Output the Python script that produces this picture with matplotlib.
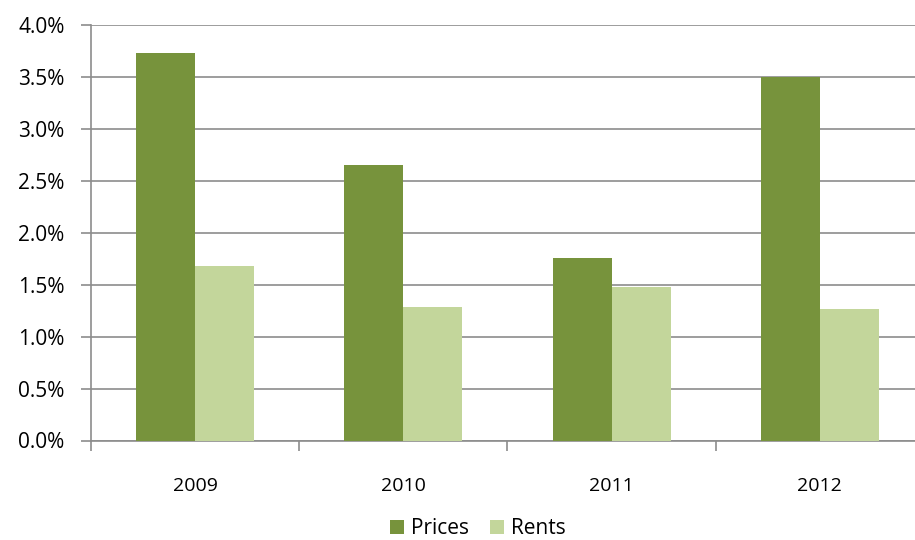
import matplotlib
matplotlib.use("Agg")
import matplotlib.pyplot as plt
import numpy as np
from matplotlib.ticker import FuncFormatter, MultipleLocator

years = ["2009", "2010", "2011", "2012"]
prices = [3.73, 2.65, 1.76, 3.50]
rents = [1.68, 1.29, 1.48, 1.27]

DARK = "#77933C"
LIGHT = "#C3D69B"
GRID = "#8C8C8C"

plt.rcParams["font.family"] = ["Open Sans", "DejaVu Sans"]

fig = plt.figure(figsize=(9.15, 5.4), dpi=100)
ax = fig.add_axes([91 / 915, 1 - 440.5 / 540, (924 - 91) / 915, (440.5 - 25) / 540])

x = np.arange(len(years))
w = 0.283
ax.bar(x - w / 2, prices, w, color=DARK, label="Prices", zorder=3)
ax.bar(x + w / 2, rents, w, color=LIGHT, label="Rents", zorder=3)

ax.set_xlim(-0.5, len(years) - 0.5)
ax.set_ylim(0, 4.0)
ax.yaxis.set_major_locator(MultipleLocator(0.5))
ax.yaxis.set_major_formatter(FuncFormatter(lambda v, _: f"{v:.1f}%"))
ax.yaxis.grid(True, color=GRID, linewidth=1.2, zorder=0)

ax.set_xticks(x)
ax.set_xticklabels(years)
ax.set_xticks(np.arange(len(years) + 1) - 0.5, minor=True)
ax.tick_params(axis="x", which="major", length=0, pad=26, labelsize=14)
ax.tick_params(axis="x", which="minor", length=7, width=1.2, color=GRID)
ax.tick_params(axis="y", length=7, width=1.2, color=GRID, pad=12, labelsize=15)

for side in ("top", "right"):
    ax.spines[side].set_visible(False)
for side in ("left", "bottom"):
    ax.spines[side].set_color(GRID)
    ax.spines[side].set_linewidth(1.2)

fig.legend(loc="center", bbox_to_anchor=(478 / 915, 1 - 529 / 540), ncol=2,
           frameon=False, fontsize=15, handlelength=0.65, handleheight=0.65,
           handletextpad=0.35, columnspacing=1.0)

fig.savefig("out.png", dpi=100)
